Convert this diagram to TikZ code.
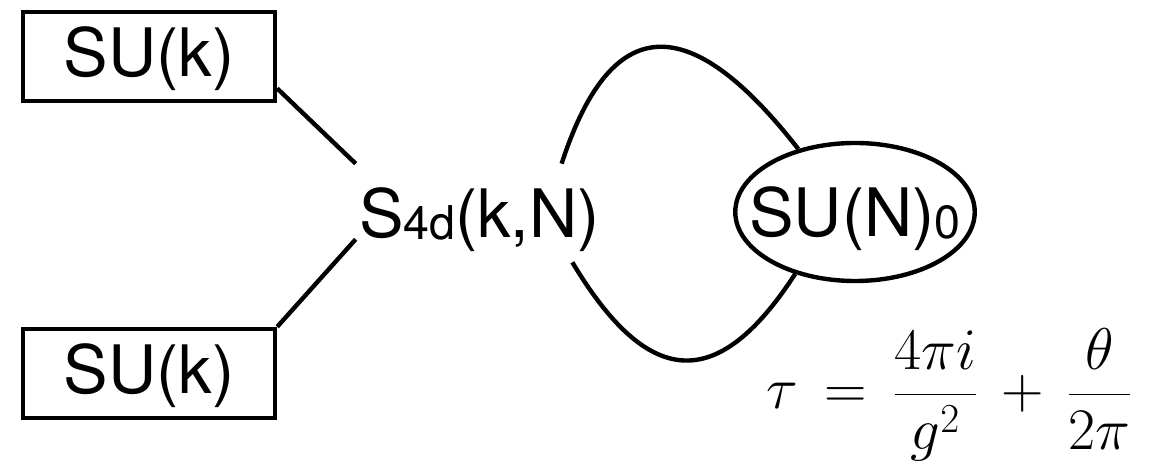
\RequirePackage{fix-cm}
\documentclass[tikz,border=0pt]{standalone}
\usepackage[no-math]{fontspec}
\newfontfamily\heros{TeX Gyre Heros}
\usetikzlibrary{shapes.geometric}
\begin{document}
\begin{tikzpicture}[every node/.style={font=\heros\fontsize{38}{45}\selectfont},
  flavor/.style={draw,line width=2.5pt,inner sep=0pt,minimum width=5.04cm,minimum height=1.78cm,text height=1.0cm,text depth=0.2cm},
  conn/.style={line width=2.5pt}]
\useasboundingbox (0,0) rectangle (22.98,9.22);
\node[flavor] (topk) at (2.98,8.09) {SU(k)};
\node[flavor] (botk) at (2.98,1.75) {SU(k)};
\node[inner sep=0pt,minimum width=4.94cm,minimum height=1.96cm,text height=1.2cm,text depth=0.2cm] (s4d) at (9.59,4.96) {S\raisebox{-0.04cm}{\fontsize{26.5}{30}\selectfont 4d}(k,N)};
\node[draw,ellipse,line width=2.5pt,inner xsep=-0.42cm,inner ysep=0pt,minimum height=2.76cm,text height=1.2cm,text depth=0.2cm] (sun) at (17.1,4.98) {SU(N)\raisebox{-0.04cm}{\fontsize{26.5}{30}\selectfont 0}};
\node[anchor=base west,inner sep=0pt,font=\fontsize{33.5}{40}\selectfont] (tau) at (15.32,1.04) {$\displaystyle\tau \,=\, \frac{4\pi i}{g^2}\,+\,\frac{\theta}{2\pi}$};
\draw[conn] (topk.-14) -- (s4d.north west);
\draw[conn] (botk.north east) -- (s4d.192);
\draw[conn] (s4d.31) .. controls +(72:3.36) and +(128:3.36) .. (sun.132);
\draw[conn] (s4d.-28) .. controls +(-59:2.9) and +(-123:2.9) .. (sun.226);
\end{tikzpicture}
\end{document}
